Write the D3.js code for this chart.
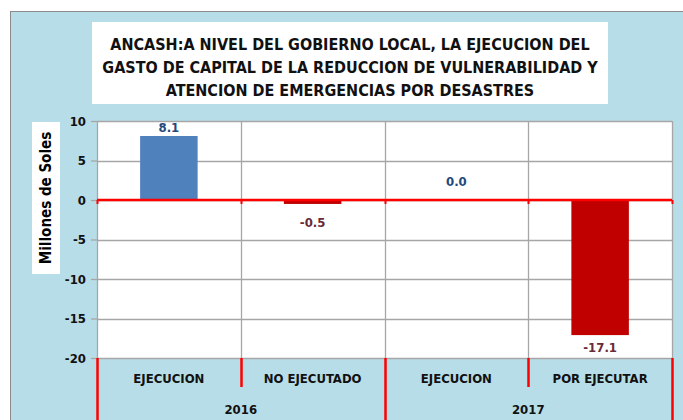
<!DOCTYPE html>
<html>
<head>
<meta charset="utf-8">
<script src="https://cdn.jsdelivr.net/npm/d3@7"></script>
<style>
  html, body { margin: 0; padding: 0; background: #ffffff; }
  svg { display: block; }
  .narrow { font-family: "Liberation Sans Narrow", "DejaVu Sans Condensed", "Arial Narrow", sans-serif; font-weight: bold; }
</style>
</head>
<body>
<svg id="chart" width="683" height="420"></svg>
<script>
// Capital spending on vulnerability reduction and disaster response, Ancash local government
const titleLines = [
  "ANCASH:A NIVEL DEL GOBIERNO LOCAL, LA EJECUCION DEL",
  "GASTO DE CAPITAL  DE LA REDUCCION DE VULNERABILIDAD Y",
  "ATENCION DE EMERGENCIAS POR DESASTRES"
];
const categories = ["EJECUCION", "NO EJECUTADO", "EJECUCION", "POR EJECUTAR"];
const years = ["2016", "2017"];
const values = [8.1, -0.5, 0.0, -17.1];
const yTicks = [10, 5, 0, -5, -10, -15, -20];
const yTitle = "Millones de Soles";

// number formats with a plain hyphen for negatives
const locale = d3.formatLocale({ decimal: ".", thousands: ",", grouping: [3], currency: ["", ""], minus: "-" });
const fmtTick = locale.format("d");
const fmtVal = locale.format(".1f");

const svg = d3.select("#chart");
const W = 683, H = 420;
const plot = { left: 97, right: 672, top: 121, bottom: 358 };

// outer chart area
svg.append("rect")
  .attr("x", 10.5).attr("y", 11.5).attr("width", W).attr("height", H)
  .attr("fill", "#b7dde8").attr("stroke", "#8c8c8c").attr("stroke-width", 1);

// title box
svg.append("rect")
  .attr("x", 92).attr("y", 22).attr("width", 516).attr("height", 82)
  .attr("fill", "#ffffff");
svg.append("g").selectAll("text").data(titleLines).join("text")
  .attr("class", "narrow")
  .attr("x", 350).attr("y", (d, i) => 44 + i * 23)
  .attr("text-anchor", "middle").attr("dominant-baseline", "central")
  .attr("font-size", 16).attr("fill", "#111")
  .text(d => d);

// scales
const x = d3.scaleBand().domain(d3.range(categories.length))
  .range([plot.left, plot.right]).paddingInner(0).paddingOuter(0);
const y = d3.scaleLinear().domain([-20, 10]).range([plot.bottom, plot.top]);

// plot background
svg.append("rect")
  .attr("x", plot.left).attr("y", plot.top)
  .attr("width", plot.right - plot.left).attr("height", plot.bottom - plot.top)
  .attr("fill", "#ffffff");

// horizontal gridlines
svg.append("g").selectAll("line").data(yTicks).join("line")
  .attr("x1", plot.left).attr("x2", plot.right)
  .attr("y1", d => Math.round(y(d)) + 0.5).attr("y2", d => Math.round(y(d)) + 0.5)
  .attr("stroke", "#a6a6a6").attr("stroke-width", 1.3);

// vertical gridlines at category boundaries
const bounds = d3.range(categories.length + 1).map(i => i < categories.length ? x(i) : plot.right);
svg.append("g").selectAll("line").data(bounds).join("line")
  .attr("x1", d => Math.round(d) + 0.5).attr("x2", d => Math.round(d) + 0.5)
  .attr("y1", plot.top).attr("y2", plot.bottom)
  .attr("stroke", "#a6a6a6").attr("stroke-width", 1.3);

// y axis
const yAxis = svg.append("g")
  .attr("transform", `translate(${plot.left},0)`)
  .call(d3.axisLeft(y).tickValues(yTicks).tickSize(6).tickPadding(5).tickFormat(fmtTick));
yAxis.select(".domain").remove();
yAxis.selectAll(".tick line").attr("stroke", "#a6a6a6").attr("stroke-width", 1.3);
yAxis.selectAll(".tick text")
  .attr("class", "narrow").attr("font-size", 13).attr("fill", "#111");

// bars
const barW = x.bandwidth() * 0.4;
svg.append("g").selectAll("rect").data(values).join("rect")
  .attr("x", (d, i) => x(i) + (x.bandwidth() - barW) / 2)
  .attr("y", d => y(Math.max(0, d)))
  .attr("width", barW)
  .attr("height", d => Math.abs(y(d) - y(0)))
  .attr("fill", d => d >= 0 ? "#4f81bd" : "#c00000");

// zero line and its category tick marks
const y0 = y(0);
svg.append("line")
  .attr("x1", plot.left).attr("x2", plot.right)
  .attr("y1", y0).attr("y2", y0)
  .attr("stroke", "#ff0000").attr("stroke-width", 2.5);
svg.append("g").selectAll("line").data(bounds).join("line")
  .attr("x1", d => Math.round(d) + 0.5).attr("x2", d => Math.round(d) + 0.5)
  .attr("y1", y0).attr("y2", y0 + 4)
  .attr("stroke", "#ff0000").attr("stroke-width", 2);

// value labels
svg.append("g").selectAll("text").data(values).join("text")
  .attr("class", "narrow")
  .attr("x", (d, i) => x(i) + x.bandwidth() / 2)
  .attr("y", d => d >= 0 ? Math.min(y(d) - 9, y0 - 19) : Math.max(y(d) + 12, y0 + 22))
  .attr("text-anchor", "middle").attr("dominant-baseline", "central")
  .attr("font-size", 13)
  .attr("fill", d => d >= 0 ? "#1f497d" : "#6b2a3a")
  .text(d => fmtVal(d));

// category labels with red dividers below the plot
svg.append("g").selectAll("line").data(bounds).join("line")
  .attr("x1", d => Math.round(d) + 0.5).attr("x2", d => Math.round(d) + 0.5)
  .attr("y1", plot.bottom).attr("y2", (d, i) => i % 2 === 0 ? H : 387)
  .attr("stroke", "#ff0000").attr("stroke-width", 2.5);
svg.append("g").selectAll("text").data(categories).join("text")
  .attr("class", "narrow")
  .attr("x", (d, i) => x(i) + x.bandwidth() / 2)
  .attr("y", 378)
  .attr("text-anchor", "middle").attr("dominant-baseline", "central")
  .attr("font-size", 13).attr("fill", "#111")
  .text(d => d);
svg.append("g").selectAll("text").data(years).join("text")
  .attr("class", "narrow")
  .attr("x", (d, i) => x(i * 2) + x.bandwidth())
  .attr("y", 409)
  .attr("text-anchor", "middle").attr("dominant-baseline", "central")
  .attr("font-size", 13).attr("fill", "#111")
  .text(d => d);

// y axis title in white box
svg.append("rect")
  .attr("x", 32).attr("y", 122).attr("width", 28).attr("height", 152)
  .attr("fill", "#ffffff");
svg.append("text")
  .attr("class", "narrow")
  .attr("transform", "translate(46,198) rotate(-90)")
  .attr("text-anchor", "middle").attr("dominant-baseline", "central")
  .attr("font-size", 15).attr("fill", "#000")
  .text(yTitle);
</script>
</body>
</html>
